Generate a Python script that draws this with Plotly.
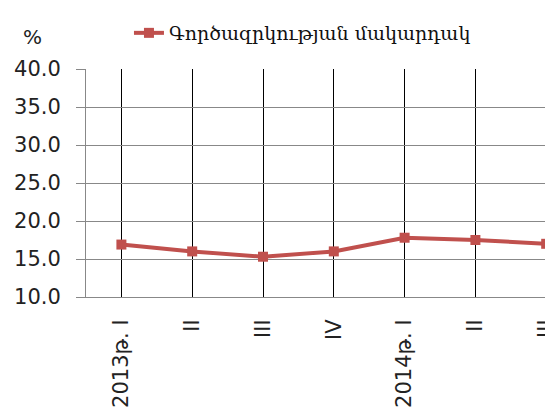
import plotly.graph_objects as go

categories = ["2013թ. I", "II", "III", "IV", "2014թ. I", "II", "III"]
unemployment = [16.9, 16.0, 15.3, 16.0, 17.8, 17.5, 17.0]
series_name = "Գործազրկության մակարդակ"
y_ticks = [10, 15, 20, 25, 30, 35, 40]
y_tick_labels = ["10.0", "15.0", "20.0", "25.0", "30.0", "35.0", "40.0"]

color = "#C0504D"
tick_font = dict(family="DejaVu Sans", size=21, color="#222222")

fig = go.Figure()
fig.add_trace(go.Scatter(
    x=list(range(len(categories))), y=unemployment, name=series_name,
    mode="lines+markers",
    line=dict(color=color, width=4),
    marker=dict(symbol="square", size=10, color=color),
    cliponaxis=False,
))

fig.update_layout(
    width=553, height=407,
    margin=dict(l=78, r=8, t=61, b=118, autoexpand=False),
    paper_bgcolor="white", plot_bgcolor="white",
    showlegend=True,
    legend=dict(orientation="h", x=0.092, y=1 - 25 / 407, xanchor="left", yanchor="middle",
                xref="paper", yref="container",
                font=dict(family="DejaVu Serif", size=19, color="#111111"),
                itemwidth=30, bgcolor="rgba(0,0,0,0)"),
    annotations=[dict(text="%", xref="paper", yref="paper", x=-0.1135, y=1.14,
                      xanchor="center", yanchor="middle",
                      showarrow=False, font=dict(family="DejaVu Sans", size=20, color="#222222"))],
)

fig.update_xaxes(
    tickmode="array", tickvals=list(range(len(categories))), ticktext=categories,
    range=[-0.5, 6.096], tickangle=-90, tickfont=tick_font, automargin=False,
    showgrid=True, gridcolor="#000000", gridwidth=1,
    showline=True, linecolor="#888888", linewidth=1,
    ticks="", zeroline=False, ticklabelstandoff=13,
)
fig.update_yaxes(
    tickmode="array", tickvals=y_ticks, ticktext=y_tick_labels,
    range=[10, 40], tickfont=tick_font, automargin=False,
    showgrid=True, gridcolor="#888888", gridwidth=1,
    showline=True, linecolor="#888888", linewidth=1,
    ticks="outside", ticklen=9, tickcolor="#888888",
    zeroline=False, ticklabelstandoff=11,
)

fig.write_html("out.html")
